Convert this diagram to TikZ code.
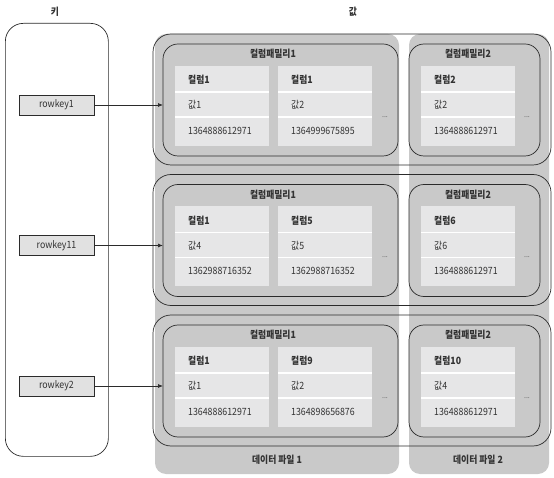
\documentclass[tikz,border=0pt]{standalone}
\usepackage{fontspec}
\setmainfont{Noto Sans CJK KR}[FakeStretch=0.88]
\usetikzlibrary{arrows.meta}
\definecolor{filegray}{HTML}{C9C9C9}
\definecolor{cellgray}{HTML}{E6E6E7}
\definecolor{keygray}{HTML}{E1E1E1}
\definecolor{linegray}{HTML}{2B2B2B}
\definecolor{txtgray}{HTML}{333333}
\newcommand\cellcol[6]{%
  \node[cellbox] (#1) at (#2,#3) {};
  \draw[divider] ([yshift=-26pt]#1.north west) -- ([yshift=-26pt]#1.north east);
  \draw[divider] ([yshift=-51pt]#1.north west) -- ([yshift=-51pt]#1.north east);
  \node[hdr] (#1h) at ([xshift=13pt,yshift=-14pt]#1.north west) {#4};
  \node[val] (#1v) at ([xshift=13pt,yshift=-39pt]#1.north west) {#5};
  \node[val] (#1t) at ([xshift=13pt,yshift=-64.5pt]#1.north west) {#6};
}
\begin{document}
\begin{tikzpicture}[x=1pt,y=-1pt,
  font=\fontsize{10}{12}\selectfont,
  filebox/.style={fill=filegray, rounded corners=11pt, anchor=north west, inner sep=0pt, outer sep=0pt, minimum height=440pt},
  rowbox/.style={draw=linegray, line width=0.7pt, rounded corners=18pt, anchor=north west, inner sep=0pt, outer sep=0pt, minimum width=398pt, minimum height=131pt},
  cfbox/.style={draw=linegray, line width=0.7pt, rounded corners=15pt, anchor=north west, inner sep=0pt, outer sep=0pt, minimum height=112pt},
  cellbox/.style={fill=cellgray, anchor=north west, inner sep=0pt, outer sep=0pt, minimum width=94pt, minimum height=80pt},
  divider/.style={white, line width=1.3pt},
  hdr/.style={anchor=west, inner sep=0pt, text=txtgray, font=\fontsize{10}{12}\selectfont\bfseries},
  val/.style={anchor=west, inner sep=0pt, text=txtgray},
  ttl/.style={inner sep=0pt, text=txtgray, font=\fontsize{10}{12}\selectfont\bfseries},
  dots/.style={inner sep=0pt, text=black!55, font=\fontsize{8}{9}\selectfont},
  keybox/.style={draw=linegray, line width=0.6pt, fill=keygray, anchor=north west, inner sep=0pt, outer sep=0pt, minimum width=75pt, minimum height=20pt, text=txtgray},
  arr/.style={draw=linegray, line width=0.7pt, -{Latex[length=5pt,width=4pt]}}
]
\useasboundingbox (0,0) rectangle (554,478);

% titles
\node[ttl] (tkey) at (55,12) {키};
\node[ttl] (tval) at (353,12) {값};

% key column
\node[draw=linegray, line width=0.7pt, rounded corners=18pt, anchor=north west, inner sep=0pt, minimum width=103pt, minimum height=433pt] (keycol) at (5,23) {};

% data files (gray)
\node[filebox, minimum width=244pt] (file1) at (155,34) {};
\node[filebox, minimum width=140pt] (file2) at (409,34) {};
\node[ttl] (f1lbl) at (277,460) {데이터 파일 1};
\node[ttl] (f2lbl) at (478,460) {데이터 파일 2};

% ---------- row 1 ----------
\node[rowbox] (row1) at (153,34) {};
\node[cfbox, minimum width=235pt] (cfa1) at (163,44) {};
\node[cfbox, minimum width=131pt] (cfb1) at (409,44) {};
\node[ttl] (cfa1t) at (273,54) {컬럼패밀리1};
\node[ttl] (cfb1t) at (468,54) {컬럼패밀리2};
\cellcol{c11}{175}{66}{컬럼1}{값1}{1364888612971}
\cellcol{c12}{278}{66}{컬럼1}{값2}{1364999675895}
\cellcol{c13}{421}{66}{컬럼2}{값2}{1364888612971}
\node[dots] (d1a) at (385,117) {...};
\node[dots] (d1b) at (527,117) {...};
\node[keybox] (rk1) at (19,95) {rowkey1};
\draw[arr] (rk1.east) -- (rk1.east -| cfa1.west);

% ---------- row 2 ----------
\node[rowbox] (row2) at (153,174.5) {};
\node[cfbox, minimum width=235pt] (cfa2) at (163,184.5) {};
\node[cfbox, minimum width=131pt] (cfb2) at (409,184.5) {};
\node[ttl] (cfa2t) at (273,194.5) {컬럼패밀리1};
\node[ttl] (cfb2t) at (468,194.5) {컬럼패밀리2};
\cellcol{c21}{175}{206.5}{컬럼1}{값4}{1362988716352}
\cellcol{c22}{278}{206.5}{컬럼5}{값5}{1362988716352}
\cellcol{c23}{421}{206.5}{컬럼6}{값6}{1364888612971}
\node[dots] (d2a) at (385,257.5) {...};
\node[dots] (d2b) at (527,257.5) {...};
\node[keybox] (rk2) at (19,235.5) {rowkey11};
\draw[arr] (rk2.east) -- (rk2.east -| cfa2.west);

% ---------- row 3 ----------
\node[rowbox] (row3) at (153,315) {};
\node[cfbox, minimum width=235pt] (cfa3) at (163,325) {};
\node[cfbox, minimum width=131pt] (cfb3) at (409,325) {};
\node[ttl] (cfa3t) at (273,335) {컬럼패밀리1};
\node[ttl] (cfb3t) at (468,335) {컬럼패밀리2};
\cellcol{c31}{175}{347}{컬럼1}{값1}{1364888612971}
\cellcol{c32}{278}{347}{컬럼9}{값2}{1364898656876}
\cellcol{c33}{421}{347}{컬럼10}{값4}{1364888612971}
\node[dots] (d3a) at (385,398) {...};
\node[dots] (d3b) at (527,398) {...};
\node[keybox] (rk3) at (19,376) {rowkey2};
\draw[arr] (rk3.east) -- (rk3.east -| cfa3.west);
\end{tikzpicture}
\end{document}
